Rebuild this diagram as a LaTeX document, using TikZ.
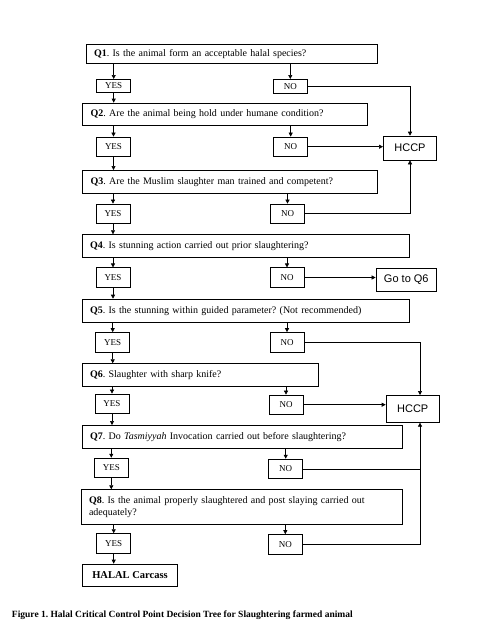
\documentclass[tikz,border=0pt]{standalone}
\usepackage{fontspec}
\setmainfont{Liberation Serif}
\newfontfamily\hccpfont{Liberation Sans}
\usetikzlibrary{arrows.meta}
\frenchspacing

\begin{document}
\begin{tikzpicture}[
    x=1pt, y=-1pt,
    line width=0.6pt,
    qbox/.style={draw, anchor=north west, align=left, inner xsep=8pt, inner ysep=0pt, font=\fontsize{10}{11.5}\selectfont},
    ansbox/.style={draw, minimum width=34pt, minimum height=19.5pt, inner sep=0pt, font=\fontsize{9}{10}\selectfont},
    hbox/.style={draw, inner sep=0pt, font=\hccpfont\fontsize{11}{13}\selectfont},
    arrow/.style={-{Triangle[length=4pt, width=4pt]}}
]
\useasboundingbox (0,0) rectangle (489,640);

% questions
\node[qbox, text width=275pt, minimum height=18.7pt] (q1) at (85.7,44) {\textbf{Q1}. Is the animal form an acceptable halal species?};
\node[qbox, text width=268.4pt, minimum height=22.3pt] (q2) at (82.3,102.7) {\textbf{Q2}. Are the animal being hold under humane condition?};
\node[qbox, text width=278.4pt, minimum height=22.7pt] (q3) at (82.3,170) {\textbf{Q3}. Are the Muslim slaughter man trained and competent?};
\node[qbox, text width=311.6pt, minimum height=23pt] (q4) at (81.7,234.3) {\textbf{Q4}. Is stunning action carried out prior slaughtering?};
\node[qbox, text width=311.3pt, minimum height=23.3pt] (q5) at (81.7,298.7) {\textbf{Q5}. Is the stunning within guided parameter? (Not recommended)};
\node[qbox, text width=220pt, minimum height=22.4pt] (q6) at (81.7,363.3) {\textbf{Q6}. Slaughter with sharp knife?};
\node[qbox, text width=304pt, minimum height=23.3pt] (q7) at (81.7,425) {\textbf{Q7}. Do \textit{Tasmiyyah} Invocation carried out before slaughtering?};
\node[qbox, text width=305pt, minimum height=34.7pt] (q8) at (80.7,489.3) {\textbf{Q8}. Is the animal properly slaughtered and post slaying carried out\\adequately?};

% answers
\node[ansbox, minimum height=13.4pt] (yes1) at (113.7,86) {YES};
\node[ansbox, minimum height=14.4pt] (no1) at (290.3,86.5) {NO};
\node[ansbox] (yes2) at (113.5,146.7) {YES};
\node[ansbox] (no2) at (290.7,146.7) {NO};
\node[ansbox] (yes3) at (113,213.7) {YES};
\node[ansbox] (no3) at (287.5,213.7) {NO};
\node[ansbox] (yes4) at (113,277.5) {YES};
\node[ansbox] (no4) at (287,277.5) {NO};
\node[ansbox] (yes5) at (112.7,342.2) {YES};
\node[ansbox] (no5) at (287,342.2) {NO};
\node[ansbox] (yes6) at (112,403.7) {YES};
\node[ansbox] (no6) at (286,404.7) {NO};
\node[ansbox] (yes7) at (111.3,467.8) {YES};
\node[ansbox] (no7) at (285.7,468.8) {NO};
\node[ansbox] (yes8) at (113.7,543.3) {YES};
\node[ansbox] (no8) at (285.3,544.2) {NO};

\node[draw, minimum width=94.6pt, minimum height=22pt, inner sep=0pt, font=\bfseries\fontsize{10.5}{12}\selectfont] (halal) at (130,575) {HALAL Carcass};

% outcomes
\node[hbox, minimum width=53.4pt, minimum height=24pt] (hccp1) at (410,148) {HCCP};
\node[hbox, minimum width=60.7pt, minimum height=22.7pt] (goq6) at (406.3,279.7) {Go to Q6};
\node[hbox, minimum width=53.4pt, minimum height=27pt] (hccp2) at (412.7,408.8) {HCCP};
\coordinate (h2top) at ([xshift=7.3pt]hccp2.north);
\coordinate (h2bot) at ([xshift=7.3pt]hccp2.south);

\node[anchor=west, inner sep=0pt, font=\bfseries\fontsize{9.5}{11}\selectfont] (caption) at (11.7,615) {Figure 1. Halal Critical Control Point Decision Tree for Slaughtering farmed animal};

% yes path
\foreach \i/\j in {1/2,2/3,3/4,4/5,5/6,6/7,7/8} {
  \draw[arrow] (q\i.south -| yes\i) -- (yes\i);
  \draw[arrow] (yes\i) -- (yes\i |- q\j.north);
  \draw[arrow] (q\i.south -| no\i) -- (no\i);
}
\draw[arrow] (q8.south -| yes8) -- (yes8);
\draw[arrow] (q8.south -| no8) -- (no8);
\draw[arrow] (yes8) -- (yes8 |- halal.north);

% no path
\draw[arrow] (no1) -| (hccp1);
\draw[arrow] (no2) -- (no2 -| hccp1.west);
\draw[arrow] (no3) -| (hccp1);
\draw[arrow] (no4) -- (no4 -| goq6.west);
\draw[arrow] (no5) -| (h2top);
\draw[arrow] (no6) -- (no6 -| hccp2.west);
\draw (no7) -- (no7 -| h2bot);
\draw[arrow] (no8) -| (h2bot);
\end{tikzpicture}
\end{document}
